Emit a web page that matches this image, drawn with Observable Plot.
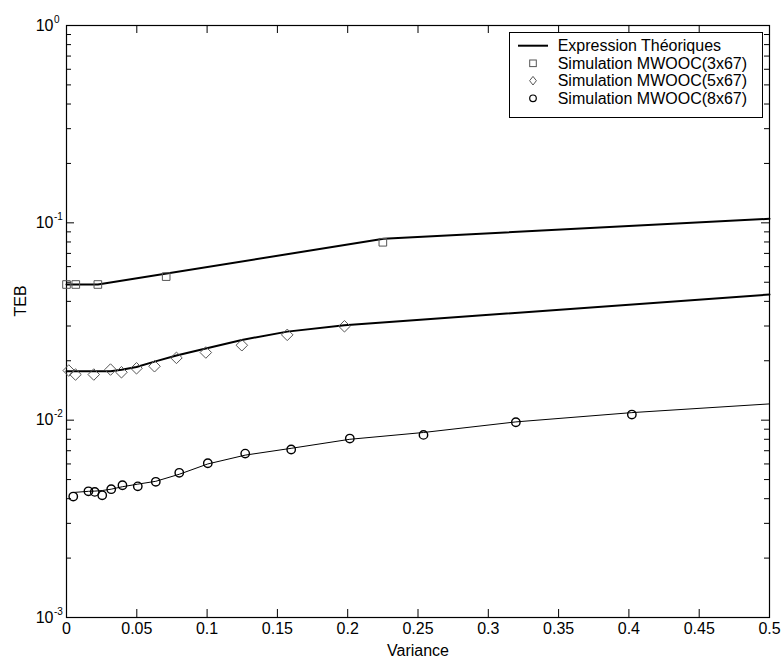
<!DOCTYPE html>
<html><head><meta charset="utf-8">
<script src="https://cdn.jsdelivr.net/npm/d3@7"></script>
<script src="https://cdn.jsdelivr.net/npm/@observablehq/plot@0.6"></script>
<style>
body{margin:0;background:#fff;font-family:Arial,"Liberation Sans",sans-serif;}
#wrap{position:relative;width:783px;height:661px;}
#legend{position:absolute;left:509px;top:32px;}
</style></head><body><div id="wrap"></div>
<script>
// ---- Data ----
const legendLabels = ["Expression Théoriques", "Simulation MWOOC(3x67)", "Simulation MWOOC(5x67)", "Simulation MWOOC(8x67)"];
const xTicks = [0, 0.05, 0.1, 0.15, 0.2, 0.25, 0.3, 0.35, 0.4, 0.45, 0.5];
const xTickLabels = ["0", "0.05", "0.1", "0.15", "0.2", "0.25", "0.3", "0.35", "0.4", "0.45", "0.5"];
const yMajor = [1e-3, 1e-2, 1e-1, 1];
const yExponents = ["-3", "-2", "-1", "0"];

// Simulation 3x67 (squares)
const sqX = [0.0, 0.0066, 0.0223, 0.0709, 0.2250];
const sqY = [0.0487, 0.0487, 0.0487, 0.0534, 0.0797];
// Theory 3x67
const thSqX = [0.0, 0.0223, 0.2255, 0.5];
const thSqY = [0.0487, 0.0487, 0.0830, 0.1048];

// Simulation 5x67 (diamonds)
const diX = [0.0016, 0.0064, 0.0194, 0.0313, 0.0391, 0.0498, 0.0626, 0.0782, 0.0991, 0.1247, 0.1570, 0.1977];
const diY = [0.01784, 0.01703, 0.01703, 0.01805, 0.01749, 0.01832, 0.01876, 0.02069, 0.02202, 0.02397, 0.02706, 0.02991];
// Theory 5x67
const thDiX = [0.0, 0.0064, 0.0194, 0.0313, 0.0391, 0.0498, 0.0626, 0.0782, 0.0991, 0.1247, 0.1570, 0.1977, 0.5];
const thDiY = [0.0177, 0.0177, 0.0177, 0.0177, 0.0180, 0.0186, 0.0198, 0.02125, 0.0231, 0.0255, 0.0281, 0.0303, 0.0433];

// Simulation 8x67 (circles)
const ciX = [0.0048, 0.0156, 0.0201, 0.0254, 0.0318, 0.0398, 0.0507, 0.0635, 0.0802, 0.1005, 0.1271, 0.1598, 0.2015, 0.2539, 0.3196, 0.4021];
const ciY = [0.00410, 0.00436, 0.00433, 0.00416, 0.00447, 0.00468, 0.00462, 0.00487, 0.00541, 0.00605, 0.00677, 0.00710, 0.00807, 0.00842, 0.00976, 0.01068];
// Theory 8x67
const thCiX = [0.0048, 0.0156, 0.0201, 0.0254, 0.0318, 0.0398, 0.0507, 0.0635, 0.0802, 0.1005, 0.1271, 0.1598, 0.2015, 0.2539, 0.3196, 0.4021, 0.5];
const thCiY = [0.0043, 0.00436, 0.00437, 0.0044, 0.00447, 0.0046, 0.00474, 0.0049, 0.00532, 0.0060, 0.00665, 0.0072, 0.0080, 0.00866, 0.0098, 0.01092, 0.01209];

// ---- Build tables ----
const zip = (xs, ys) => xs.map((x, i) => ({x, y: ys[i]}));
const yMinor = [];
for (let e = -3; e < 0; e++) for (let k = 2; k <= 9; k++) yMinor.push(k * Math.pow(10, e));

const W = 783, H = 661, mL = 66, mR = 14, mT = 25, mB = 44;
const PW = W - mL - mR, PH = H - mT - mB;
const font = "Arial, 'Liberation Sans', sans-serif";

const chart = Plot.plot({
  width: W, height: H,
  marginLeft: mL, marginRight: mR, marginTop: mT, marginBottom: mB,
  style: {fontFamily: font, fontSize: "16px", background: "white", color: "black", overflow: "visible"},
  x: {domain: [0, 0.5], axis: null},
  y: {type: "log", domain: [1e-3, 1], axis: null},
  marks: [
    Plot.frame({stroke: "black", strokeWidth: 1.2}),
    Plot.tickX(xTicks, {x: d => d, insetTop: PH - 8, stroke: "black"}),
    Plot.tickX(xTicks, {x: d => d, insetBottom: PH - 8, stroke: "black"}),
    Plot.tickY(yMajor, {y: d => d, insetRight: PW - 8, stroke: "black"}),
    Plot.tickY(yMajor, {y: d => d, insetLeft: PW - 8, stroke: "black"}),
    Plot.tickY(yMinor, {y: d => d, insetRight: PW - 5, stroke: "black"}),
    Plot.tickY(yMinor, {y: d => d, insetLeft: PW - 5, stroke: "black"}),
    Plot.text(xTicks, {x: d => d, frameAnchor: "bottom", text: (d, i) => xTickLabels[i], dy: 16, fill: "black", fontSize: 16}),
    Plot.text(yMajor, {y: d => d, frameAnchor: "left", text: () => "10", textAnchor: "end", dx: -13, fill: "black", fontSize: 16}),
    Plot.text(yMajor, {y: d => d, frameAnchor: "left", text: (d, i) => yExponents[i], textAnchor: "start", dx: -12.5, dy: -6, fill: "black", fontSize: 10}),
    Plot.text(["Variance"], {frameAnchor: "bottom", text: d => d, dy: 38, fill: "black", fontSize: 16}),
    Plot.text(["TEB"], {frameAnchor: "left", text: d => d, rotate: -90, dx: -46, dy: -5, fill: "black", fontSize: 16}),
    Plot.line(zip(thSqX, thSqY), {x: "x", y: "y", stroke: "black", strokeWidth: 2}),
    Plot.line(zip(thDiX, thDiY), {x: "x", y: "y", stroke: "black", strokeWidth: 2}),
    Plot.line(zip(thCiX, thCiY), {x: "x", y: "y", stroke: "black", strokeWidth: 1}),
    Plot.dot(zip(sqX, sqY), {x: "x", y: "y", symbol: "square", r: 4.3, stroke: "#555", strokeWidth: 1, fill: "none"}),
    Plot.dot(zip(diX, diY), {x: "x", y: "y", symbol: "diamond2", r: 5.2, stroke: "#555", strokeWidth: 1, fill: "none"}),
    Plot.dot(zip(ciX, ciY), {x: "x", y: "y", symbol: "circle", r: 4.2, stroke: "black", strokeWidth: 1.4, fill: "none"})
  ]
});

const wrap = document.getElementById("wrap");
wrap.appendChild(chart);

// ---- Legend ----
const lw = 254, lh = 86;
const rows = [13.7, 31.3, 48.7, 66.3];
const ns = "http://www.w3.org/2000/svg";
const leg = document.createElementNS(ns, "svg");
leg.setAttribute("id", "legend");
leg.setAttribute("width", lw);
leg.setAttribute("height", lh);
function el(tag, attrs) {
  const e = document.createElementNS(ns, tag);
  for (const k in attrs) e.setAttribute(k, attrs[k]);
  leg.appendChild(e);
  return e;
}
el("rect", {x: 0.5, y: 0.5, width: lw - 1, height: lh - 1, fill: "white", stroke: "black", "stroke-width": 1});
el("line", {x1: 9, x2: 39, y1: rows[0], y2: rows[0], stroke: "black", "stroke-width": 2});
el("rect", {x: 24 - 3.3, y: rows[1] - 3.3, width: 6.6, height: 6.6, fill: "none", stroke: "#555", "stroke-width": 1});
el("path", {d: `M24,${rows[2] - 4.3}L27.4,${rows[2]}L24,${rows[2] + 4.3}L20.6,${rows[2]}Z`, fill: "none", stroke: "#555", "stroke-width": 1});
el("circle", {cx: 24, cy: rows[3], r: 3.3, fill: "none", stroke: "black", "stroke-width": 1.2});
legendLabels.forEach((t, i) => {
  const tx = el("text", {x: 48.7, y: rows[i] + 5.6, "font-size": 16, "font-family": font, fill: "black"});
  tx.textContent = t;
});
wrap.appendChild(leg);
</script>
</body></html>
